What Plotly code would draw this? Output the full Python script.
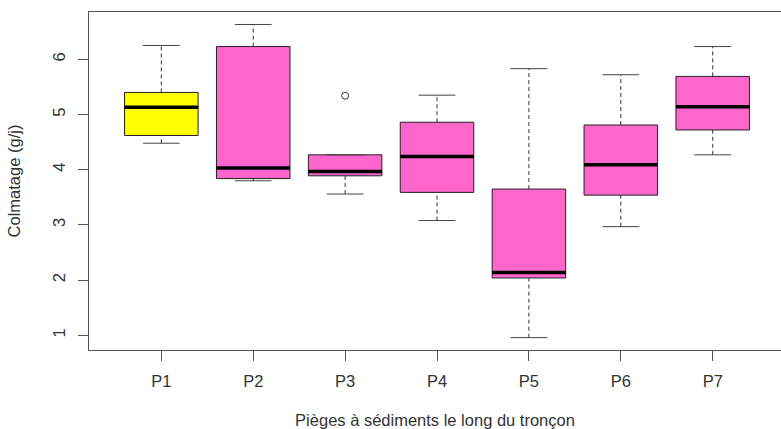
import plotly.graph_objects as go

categories = ["P1", "P2", "P3", "P4", "P5", "P6", "P7"]
lower_whisker = [4.48, 3.80, 3.56, 3.08, 0.96, 2.97, 4.27]
q1 = [4.62, 3.84, 3.89, 3.59, 2.04, 3.54, 4.72]
median = [5.13, 4.03, 3.97, 4.24, 2.14, 4.09, 5.14]
q3 = [5.40, 6.23, 4.27, 4.86, 3.65, 4.81, 5.69]
upper_whisker = [6.25, 6.63, 4.27, 5.35, 5.83, 5.72, 6.23]
outlier_cat = ["P3"]
outlier_val = [5.34]
fill_colors = ["#FFFF00", "#FF66CC", "#FF66CC", "#FF66CC", "#FF66CC", "#FF66CC", "#FF66CC"]

pos = list(range(1, len(categories) + 1))
box_w = 0.8
cap_half = 0.2

fig = go.Figure()

# dashed whiskers
wx, wy = [], []
for p, lo, a, b, hi in zip(pos, lower_whisker, q1, q3, upper_whisker):
    if hi > b:
        wx += [p, p, None]; wy += [b, hi, None]
    if lo < a:
        wx += [p, p, None]; wy += [lo, a, None]
fig.add_trace(go.Scatter(x=wx, y=wy, mode="lines",
                         line=dict(color="#333333", width=1, dash="4px,3px"),
                         hoverinfo="skip", showlegend=False))
# caps
cx, cy = [], []
for p, lo, hi in zip(pos, lower_whisker, upper_whisker):
    cx += [p - cap_half, p + cap_half, None, p - cap_half, p + cap_half, None]
    cy += [hi, hi, None, lo, lo, None]
fig.add_trace(go.Scatter(x=cx, y=cy, mode="lines",
                         line=dict(color="#444444", width=1),
                         hoverinfo="skip", showlegend=False))

# boxes
for p, a, m, b, c in zip(pos, q1, median, q3, fill_colors):
    fig.add_trace(go.Box(x=[p], q1=[a], median=[m], q3=[b], lowerfence=[a], upperfence=[b],
                         width=box_w, fillcolor=c, line=dict(color="#222222", width=1),
                         whiskerwidth=0, boxpoints=False, showlegend=False, hoverinfo="skip"))

# thick medians
mx, my = [], []
for p, m in zip(pos, median):
    mx += [p - box_w / 2, p + box_w / 2, None]
    my += [m, m, None]
fig.add_trace(go.Scatter(x=mx, y=my, mode="lines",
                         line=dict(color="black", width=3.5),
                         hoverinfo="skip", showlegend=False))

# outliers
fig.add_trace(go.Scatter(x=[pos[categories.index(c)] for c in outlier_cat], y=outlier_val,
                         mode="markers",
                         marker=dict(symbol="circle-open", size=7, color="#333333", line=dict(width=1)),
                         hoverinfo="skip", showlegend=False))

font_fam = "Liberation Sans, Arial, sans-serif"
fs = 16.5
fig.update_layout(
    width=781, height=429,
    margin=dict(l=89, r=0, t=12, b=79),
    plot_bgcolor="white", paper_bgcolor="white",
    font=dict(family=font_fam, size=fs, color="#333333"),
    xaxis=dict(range=[0.213, 7.743], tickvals=pos, ticktext=categories,
               showgrid=False, zeroline=False, showline=True, mirror=True,
               linecolor="#555555", linewidth=1, ticks="outside", ticklen=10,
               tickcolor="#555555", ticklabelstandoff=6, tickfont=dict(size=fs, color="#333333"),
               title=dict(text="Pièges à sédiments le long du tronçon",
                          font=dict(size=fs, color="#333333"), standoff=26)),
    yaxis=dict(range=[0.736, 6.856], tickvals=[1, 2, 3, 4, 5, 6],
               showgrid=False, zeroline=False, showline=True, mirror=False,
               linecolor="#555555", linewidth=1, ticks="outside", ticklen=10,
               tickcolor="#555555", tickangle=-90, ticklabelstandoff=6,
               tickfont=dict(size=fs, color="#333333"),
               title=dict(text="Colmatage (g/j)", font=dict(size=fs, color="#333333"), standoff=25)),
)

fig.write_html("out.html")
